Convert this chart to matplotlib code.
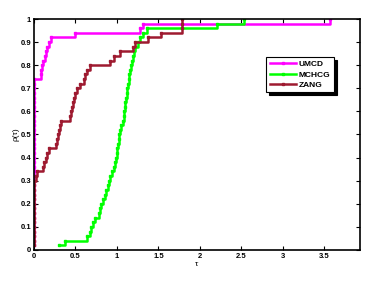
import numpy as np
import matplotlib.pyplot as plt

# ratios de performance (tau) par probleme, 50 problemes par solveur
umcd_tau = [0.0] * 37 + [0.08, 0.08, 0.10, 0.11, 0.13, 0.14, 0.16, 0.18, 0.20,
                         0.50, 1.28, 1.31, 3.57]
mchcg_tau = [0.30, 0.37, 0.64, 0.67, 0.69, 0.71, 0.73, 0.78, 0.80, 0.81,
             0.83, 0.85, 0.87, 0.89, 0.91, 0.92, 0.94, 0.96, 0.975,
             0.985, 0.995, 1.00, 1.01, 1.02, 1.03, 1.04, 1.05, 1.07,
             1.08, 1.09, 1.10, 1.10, 1.11, 1.12, 1.12, 1.13,
             1.14, 1.15, 1.16, 1.17, 1.18, 1.19, 1.20, 1.22, 1.25,
             1.28, 1.31, 1.365, 2.21, 2.53]
zang_tau = [0.0] * 15 + [0.02, 0.04, 0.11, 0.12, 0.14, 0.16, 0.18,
                         0.27, 0.28, 0.29, 0.30, 0.31, 0.33,
                         0.43, 0.44, 0.46, 0.47, 0.48, 0.50, 0.52, 0.55,
                         0.60, 0.62, 0.64, 0.67, 0.92, 0.96, 1.04,
                         1.19, 1.22, 1.37, 1.53, 1.79, 1.79, 1.79]

solvers = ['UMCD', 'MCHCG', 'ZANG']
colors = ['#ff00ff', '#00ff00', '#9e1a30']
x_ticks = [0, 0.5, 1, 1.5, 2, 2.5, 3, 3.5]
y_ticks = [0, 0.1, 0.2, 0.3, 0.4, 0.5, 0.6, 0.7, 0.8, 0.9, 1]

plt.rcParams['font.family'] = ['Liberation Sans', 'DejaVu Sans']
fig = plt.figure(figsize=(3.75, 2.82), dpi=100)
ax = fig.add_axes([0.0907, 0.1135, 0.8693, 0.8191])

for name, tau, c in zip(solvers, [umcd_tau, mchcg_tau, zang_tau], colors):
    t = np.sort(np.array(tau))
    rho = np.arange(1, len(t) + 1) / len(t)
    ax.plot(t, rho, drawstyle='steps-post', color=c, lw=1.8,
            marker='s', ms=1.6, mec=c, mfc=c, label=name)

ax.set_xlim(0, 3.93)
ax.set_ylim(0, 1)
ax.set_xticks(x_ticks)
ax.set_xticklabels([f'{v:g}' for v in x_ticks])
ax.set_yticks(y_ticks)
ax.set_yticklabels([f'{v:g}' for v in y_ticks])
ax.tick_params(direction='in', top=True, right=True, length=3, width=0.8,
               labelsize=5.5, pad=2)
for lab in ax.get_xticklabels() + ax.get_yticklabels():
    lab.set_fontweight('bold')
for s in ax.spines.values():
    s.set_linewidth(1.2)

ax.set_xlabel('τ', fontsize=6, labelpad=1)
ax.set_ylabel('ρ(τ)', fontsize=6, labelpad=1)

leg = ax.legend(loc='upper left', bbox_to_anchor=(0.713, 0.835),
                fontsize=6, frameon=True, fancybox=False,
                shadow={'color': 'black', 'alpha': 1},
                handlelength=3.2, handletextpad=0.3, borderpad=0.4,
                labelspacing=0.3, borderaxespad=0)
leg.get_frame().set_edgecolor('black')
leg.get_frame().set_linewidth(0.8)
for t in leg.get_texts():
    t.set_fontweight('bold')

plt.savefig('out.png')
